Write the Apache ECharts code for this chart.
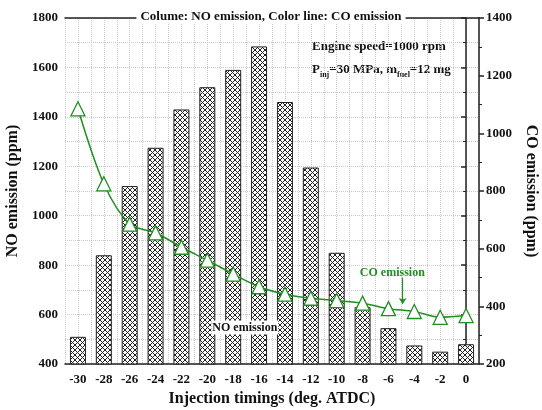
<!DOCTYPE html>
<html>
<head>
<meta charset="utf-8">
<script src="https://cdn.jsdelivr.net/npm/echarts@6/dist/echarts.min.js"></script>
<style>
  html, body { margin: 0; padding: 0; background: #fff; }
  #chart { width: 542px; height: 410px; }
</style>
</head>
<body>
<div id="chart"></div>
<script>
// injection timings (deg. ATDC)
const timings = ['-30', '-28', '-26', '-24', '-22', '-20', '-18', '-16', '-14', '-12', '-10', '-8', '-6', '-4', '-2', '0']
// NO emission (ppm), columns, left axis
const noEmission = [510, 840, 1120, 1275, 1430, 1520, 1590, 1685, 1460, 1195, 850, 630, 545, 475, 450, 480]
// CO emission (ppm), green line, right axis
const coEmission = [1085, 825, 685, 655, 605, 560, 512, 468, 442, 428, 420, 411, 392, 382, 362, 368]

const serif = 'Liberation Serif'
const green = '#1f8f1f'

// cross hatch fill for the columns
const hatch = document.createElement('canvas')
hatch.width = 5
hatch.height = 5
const hctx = hatch.getContext('2d')
hctx.fillStyle = '#fff'
hctx.fillRect(0, 0, 5, 5)
hctx.strokeStyle = '#222'
hctx.lineWidth = 1
hctx.beginPath()
hctx.moveTo(0, 0); hctx.lineTo(5, 5)
hctx.moveTo(0, 5); hctx.lineTo(5, 0)
hctx.stroke()

const chart = echarts.init(document.getElementById('chart'))

const gridLine = { lineStyle: { color: '#c8c8c8', type: 'dotted', width: 1 } }
const tickFont = { fontFamily: serif, fontWeight: 'bold', fontSize: 13, color: '#111' }
const nameFont = { fontFamily: serif, fontWeight: 'bold', fontSize: 16, color: '#111' }

const option = {
  animation: false,
  title: {
    text: 'Colume: NO emission, Color line: CO emission',
    left: 'center',
    top: 10,
    padding: [0, 4],
    backgroundColor: '#fff',
    textStyle: { fontFamily: serif, fontWeight: 'bold', fontSize: 13, color: '#111' }
  },
  grid: { left: 65, right: 63, top: 18, bottom: 46, outerBoundsMode: 'none', containLabel: false },
  xAxis: [
    {
      type: 'category',
      data: timings,
      name: 'Injection timings (deg. ATDC)',
      nameLocation: 'middle',
      nameGap: 26,
      nameTextStyle: nameFont,
      axisLine: { lineStyle: { color: '#222', width: 1.5 } },
      axisTick: { show: false },
      axisLabel: Object.assign({ margin: 9 }, tickFont),
      splitLine: { show: false }
    },
    {
      // frame top + vertical dotted grid
      type: 'value',
      position: 'top',
      min: -31,
      max: 1,
      interval: 1,
      axisLine: { show: true, lineStyle: { color: '#222', width: 1.5 } },
      axisTick: { show: false },
      axisLabel: { show: false },
      splitLine: Object.assign({ show: true }, gridLine)
    }
  ],
  yAxis: [
    {
      type: 'value',
      min: 400,
      max: 1800,
      interval: 200,
      name: 'NO emission (ppm)',
      nameLocation: 'middle',
      nameGap: 40,
      nameTextStyle: nameFont,
      axisLine: { show: true, lineStyle: { color: '#222', width: 1.5 } },
      axisTick: { show: true, length: 5, lineStyle: { color: '#222', width: 1.5 } },
      minorTick: { show: true, splitNumber: 2, length: 3, lineStyle: { color: '#222' } },
      axisLabel: Object.assign({ margin: 7, formatter: v => String(v) }, tickFont),
      splitLine: Object.assign({ show: true }, gridLine),
      minorSplitLine: Object.assign({ show: true }, gridLine)
    },
    {
      type: 'value',
      min: 200,
      max: 1400,
      interval: 200,
      name: 'CO emission (ppm)',
      nameLocation: 'middle',
      nameGap: 40,
      nameRotate: -90,
      nameTextStyle: nameFont,
      axisLine: { show: true, lineStyle: { color: '#222', width: 1.5 } },
      axisTick: { show: true, length: 5, lineStyle: { color: '#222', width: 1.5 } },
      minorTick: { show: true, splitNumber: 2, length: 3, lineStyle: { color: '#222' } },
      axisLabel: Object.assign({ margin: 7, formatter: v => String(v) }, tickFont),
      splitLine: { show: false }
    }
  ],
  series: [
    {
      name: 'NO emission',
      type: 'bar',
      xAxisIndex: 0,
      yAxisIndex: 0,
      data: noEmission,
      barWidth: 16,
      itemStyle: {
        color: { image: hatch, repeat: 'repeat' },
        borderColor: '#222',
        borderWidth: 1
      }
    },
    {
      name: 'CO emission',
      type: 'line',
      xAxisIndex: 0,
      yAxisIndex: 1,
      data: coEmission,
      smooth: 0.3,
      symbol: 'triangle',
      symbolSize: 14,
      z: 5,
      lineStyle: { color: green, width: 1.5 },
      itemStyle: { color: '#fff', borderColor: green, borderWidth: 1.3 }
    },
    {
      // annotations placed on the value x axis (between categories)
      type: 'line',
      xAxisIndex: 1,
      yAxisIndex: 1,
      data: [],
      z: 6,
      markPoint: {
        symbol: 'rect',
        symbolSize: 0,
        data: [{ coord: [-5.7, 516] }],
        label: {
          show: true,
          formatter: 'CO emission',
          fontFamily: serif,
          fontWeight: 'bold',
          fontSize: 12,
          color: green
        }
      },
      markLine: {
        silent: true,
        symbol: ['none', 'arrow'],
        symbolSize: 6,
        label: { show: false },
        lineStyle: { color: green, width: 1.2, type: 'solid' },
        data: [[{ coord: [-4.9, 500] }, { coord: [-4.9, 408] }]]
      }
    },
    {
      type: 'line',
      xAxisIndex: 1,
      yAxisIndex: 0,
      data: [],
      z: 6,
      markPoint: {
        symbol: 'rect',
        symbolSize: 0,
        data: [{ coord: [-17.1, 548] }],
        label: {
          show: true,
          formatter: 'NO emission',
          backgroundColor: '#fff',
          padding: [1, 1],
          fontFamily: serif,
          fontWeight: 'bold',
          fontSize: 12,
          color: '#111'
        }
      }
    }
  ],
  graphic: [
    {
      type: 'text',
      left: 312,
      top: 40,
      style: {
        text: 'Engine speed=1000 rpm',
        font: 'bold 13px "Liberation Serif"',
        fill: '#111'
      }
    },
    {
      type: 'text',
      left: 312,
      top: 63,
      style: {
        text: '{n|P}{s|inj}{n|=30 MPa, m}{s|fuel}{n|=12 mg}',
        rich: {
          n: { font: 'bold 13px "Liberation Serif"', fill: '#111', verticalAlign: 'top', lineHeight: 16 },
          s: { font: 'bold 8px "Liberation Serif"', fill: '#111', verticalAlign: 'bottom', lineHeight: 16, padding: [8, 0, 0, 0] }
        }
      }
    }
  ]
}

chart.setOption(option)
</script>
</body>
</html>
